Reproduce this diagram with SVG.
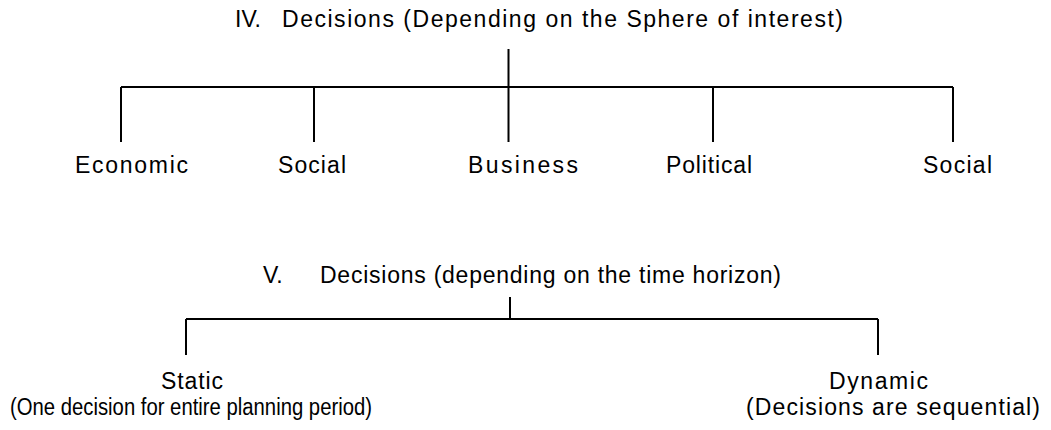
<svg xmlns="http://www.w3.org/2000/svg" width="1051" height="430" viewBox="0 0 1051 430">
<style>
text{font-family:"Liberation Sans",Arial,sans-serif;font-size:23px;fill:#000}
.ln{stroke:#000;stroke-width:2;fill:none}
</style>
<rect width="1051" height="430" fill="#fff"/>
<g id="title4"><text x="235" y="27">IV.</text><text x="282" y="27" textLength="561">Decisions (Depending on the Sphere of interest)</text></g>
<g id="economic"><text x="75" y="173" textLength="113">Economic</text></g>
<g id="social1"><text x="278" y="173" textLength="68">Social</text></g>
<g id="business"><text x="468" y="173" textLength="110">Business</text></g>
<g id="political"><text x="666" y="173" textLength="86">Political</text></g>
<g id="social2"><text x="923" y="173" textLength="69">Social</text></g>
<g id="title5"><text x="263" y="283">V.</text><text x="320" y="283" textLength="461">Decisions (depending on the time horizon)</text></g>
<g id="static"><text x="161" y="389" textLength="62">Static</text><text x="10" y="415" textLength="362" lengthAdjust="spacingAndGlyphs">(One decision for entire planning period)</text></g>
<g id="dynamic"><text x="829" y="389" textLength="99">Dynamic</text><text x="746" y="415" textLength="294">(Decisions are sequential)</text></g>
<g id="connectors" class="ln">
<path d="M508.5 49V87M121 87H953M121 87V142M314 87V142M508.5 87V142M713 87V142M953 87V142"/>
<path d="M510 297V319M186 319H878M186 319V355M878 319V355"/>
</g>
</svg>
